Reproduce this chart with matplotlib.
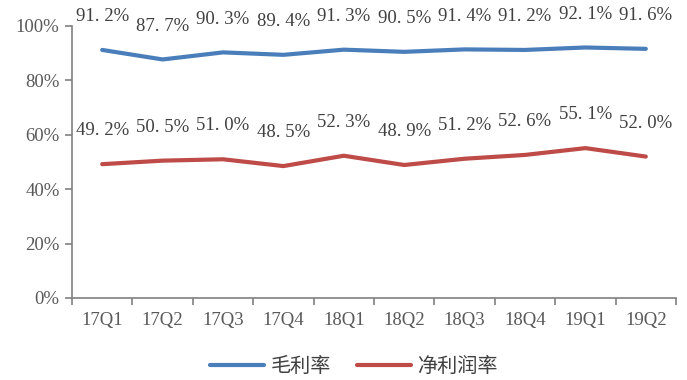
import matplotlib.pyplot as plt
import numpy as np

quarters = ["17Q1", "17Q2", "17Q3", "17Q4", "18Q1", "18Q2", "18Q3", "18Q4", "19Q1", "19Q2"]
gross_margin = [91.2, 87.7, 90.3, 89.4, 91.3, 90.5, 91.4, 91.2, 92.1, 91.6]
net_margin = [49.2, 50.5, 51.0, 48.5, 52.3, 48.9, 51.2, 52.6, 55.1, 52.0]

plt.rcParams["font.family"] = ["Liberation Serif", "Noto Sans CJK SC"]

fig = plt.figure(figsize=(6.87, 3.8), dpi=100)
ax = fig.add_axes([72 / 687, 82 / 380, 604 / 687, 272 / 380])

x = np.arange(len(quarters))
ax.plot(x, gross_margin, color="#4a7ebb", lw=3, solid_capstyle="round", label="毛利率")
ax.plot(x, net_margin, color="#be4b48", lw=3, solid_capstyle="round", label="净利润率")

# data labels above each point
for series in (gross_margin, net_margin):
    for xi, v in zip(x, series):
        ax.annotate(f"{v:.1f}%".replace(".", ". "), (xi, v), xytext=(0, 24),
                    textcoords="offset points", ha="center", va="center",
                    fontsize=13.5, color="#404040")

ax.set_xlim(-0.5, len(quarters) - 0.5)
ax.set_ylim(0, 100)
ax.set_yticks(range(0, 101, 20))
ax.set_yticklabels([f"{t}%" for t in range(0, 101, 20)], fontsize=13.5, color="#595959")
ax.set_xticks(x)
ax.set_xticklabels(quarters, fontsize=13.5, color="#595959")
ax.set_xticks(np.arange(-0.5, len(quarters), 1), minor=True)
ax.tick_params(axis="x", which="major", length=0, pad=10)
ax.tick_params(axis="x", which="minor", length=5, color="#808080", width=1.2)
ax.tick_params(axis="y", length=5, color="#808080", width=1.2, pad=4)

for side in ("top", "right"):
    ax.spines[side].set_visible(False)
for side in ("left", "bottom"):
    ax.spines[side].set_color("#808080")
    ax.spines[side].set_linewidth(1.2)

leg = fig.legend(loc="center", ncol=2, frameon=False, fontsize=14.5,
                 handlelength=2.7, columnspacing=1.3, handletextpad=0.3)
leg.set_bbox_to_anchor((0.515, 1 - 367 / 380), transform=fig.transFigure)
for t in leg.get_texts():
    t.set_color("#404040")

fig.savefig("out.png", dpi=100)
